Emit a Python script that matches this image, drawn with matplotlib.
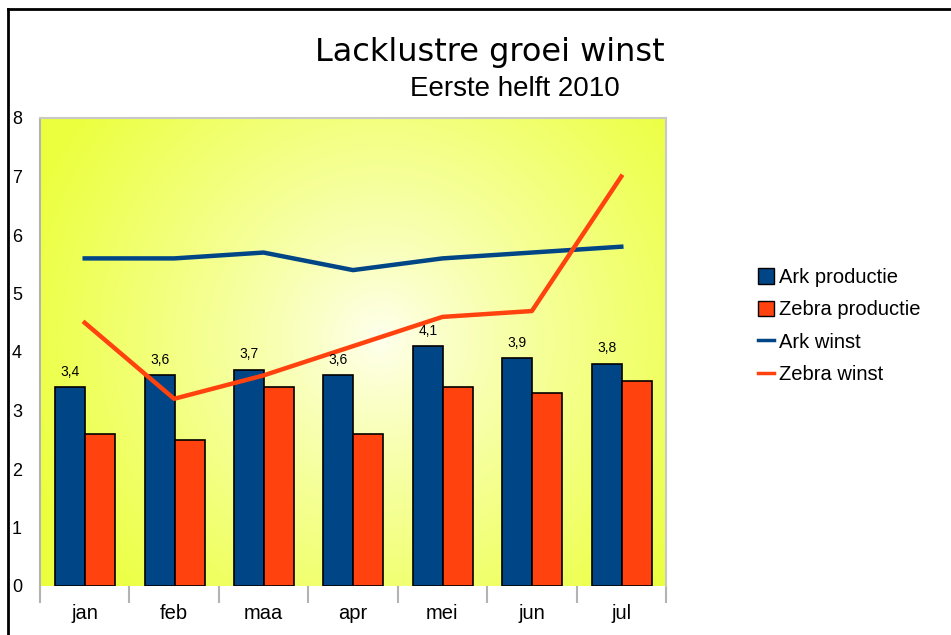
import numpy as np
import matplotlib
matplotlib.use("Agg")
import matplotlib.pyplot as plt
from matplotlib.lines import Line2D
from matplotlib.patches import Patch

# data
maanden = ["jan", "feb", "maa", "apr", "mei", "jun", "jul"]
ark_productie = [3.4, 3.6, 3.7, 3.6, 4.1, 3.9, 3.8]
zebra_productie = [2.6, 2.5, 3.4, 2.6, 3.4, 3.3, 3.5]
ark_winst = [5.6, 5.6, 5.7, 5.4, 5.6, 5.7, 5.8]
zebra_winst = [4.5, 3.2, 3.6, 4.1, 4.6, 4.7, 7.0]

blauw = "#004586"
oranje = "#ff420e"

plt.rcParams["font.family"] = ["Liberation Sans", "DejaVu Sans"]

fig = plt.figure(figsize=(9.51, 6.35), dpi=100)
ax = fig.add_axes([40 / 951, 1 - 586 / 635, 626 / 951, 468 / 635])

# radiale achtergrond (wit in het midden, geel aan de rand)
h, w = 468, 626
yy, xx = np.mgrid[0:h, 0:w]
r = np.hypot(xx - 340, yy - 220) / 370.0
t = np.clip(r, 0, 1) ** 0.85
binnen = np.array([1.0, 1.0, 0.94])
buiten = np.array([0.925, 1.0, 0.25])
img = binnen[None, None, :] * (1 - t[..., None]) + buiten[None, None, :] * t[..., None]
ax.imshow(img, extent=[-0.5, 6.5, 0, 8], aspect="auto", zorder=0, origin="upper")

x = np.arange(len(maanden))
bw = 0.335
ax.bar(x - bw / 2 + 0.005, ark_productie, bw, color=blauw, edgecolor="black", linewidth=1.2, zorder=2)
ax.bar(x + bw / 2 + 0.005, zebra_productie, bw, color=oranje, edgecolor="black", linewidth=1.2, zorder=2)
ax.plot(x, ark_winst, color=blauw, linewidth=3.2, zorder=3)
ax.plot(x, zebra_winst, color=oranje, linewidth=3.2, zorder=3)

# waardelabels boven de blauwe balken
for xi, v in zip(x, ark_productie):
    ax.annotate(str(v).replace(".", ","), (xi - bw / 2 + 0.005, v), xytext=(0, 6),
                textcoords="offset points", ha="center", va="bottom", fontsize=10)

ax.set_xlim(-0.5, 6.5)
ax.set_ylim(0, 8)
ax.set_yticks(range(9))
ax.tick_params(axis="y", length=0, pad=13, labelsize=13)
ax.set_xticks(x)
ax.set_xticklabels(maanden, fontsize=14.5)
ax.set_xticks(np.arange(-0.5, 7, 1), minor=True)
ax.tick_params(axis="x", which="major", length=0, pad=13)
ax.tick_params(axis="x", which="minor", length=12, color="#b3b3b3", width=1.5)
for s in ["left", "bottom"]:
    ax.spines[s].set_color("#b3b3b3")
    ax.spines[s].set_linewidth(1.5)
for s in ["top", "right"]:
    ax.spines[s].set_color("#c8c8c8")
    ax.spines[s].set_linewidth(1.5)
ax.spines["bottom"].set_visible(False)

handles = [Patch(facecolor=blauw, edgecolor="black"),
           Patch(facecolor=oranje, edgecolor="black"),
           Line2D([], [], color=blauw, linewidth=2.5),
           Line2D([], [], color=oranje, linewidth=2.5)]
labels = ["Ark productie", "Zebra productie", "Ark winst", "Zebra winst"]
fig.legend(handles, labels, loc="upper left", bbox_to_anchor=(740 / 951, 1 - 250 / 635),
           frameon=False, fontsize=14.5, handlelength=0.8, handleheight=0.8,
           handletextpad=0.25, labelspacing=0.66)

fig.text(490 / 951, 1 - 52 / 635, "Lacklustre groei winst", ha="center", va="center",
         fontsize=23, family="DejaVu Sans")
fig.text(515 / 951, 1 - 89 / 635, "Eerste helft 2010", ha="center", va="center", fontsize=20)

# kader
fig.add_artist(Line2D([8 / 951, 8 / 951], [0, 1 - 9 / 635], color="black", linewidth=2))
fig.add_artist(Line2D([8 / 951, 1], [1 - 9 / 635, 1 - 9 / 635], color="black", linewidth=2))

fig.savefig("out.png", dpi=100)
